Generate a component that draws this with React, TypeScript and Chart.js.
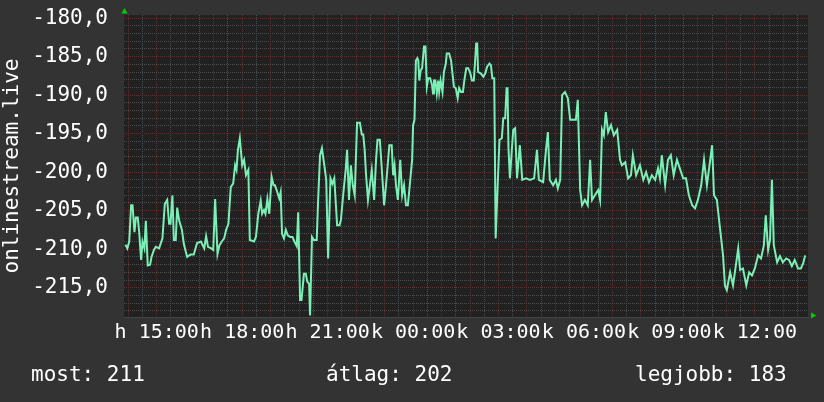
import React, { useEffect, useRef } from 'react';
import { Chart, registerables } from 'chart.js';

Chart.register(...registerables);

// ---- data (minutes after 14:00 of day 1, and the plotted value) ----
const minutes = [
  -6, -2, 2, 6, 9, 13, 16, 20, 23, 27,
  30, 34, 37, 41, 46, 49, 54, 58, 65, 72,
  77, 82, 86, 89, 93, 96, 100, 103, 107, 113,
  117, 124, 131, 138, 145, 153, 160, 164, 168, 175,
  179, 183, 188, 192, 197, 202, 206, 211, 216, 221,
  225, 228, 231, 235, 240, 244, 248, 253, 256, 265,
  269, 274, 279, 282, 286, 289, 293, 297, 302, 306,
  309, 314, 318, 321, 324, 328, 332, 336, 341, 346,
  350, 355, 358, 362, 365, 370, 374, 377, 381, 383,
  387, 391, 397, 400, 404, 408, 413, 417, 421, 426,
  430, 434, 440, 445, 448, 453, 458, 461, 465, 469,
  473, 477, 482, 488, 492, 495, 498, 501, 505, 509,
  513, 518, 522, 525, 530, 535, 539, 543, 550, 555,
  558, 561, 564, 568, 573, 577, 581, 585, 589, 593,
  598, 600, 603, 606, 609, 611, 613, 616, 619, 623,
  626, 629, 632, 636, 640, 642, 644, 647, 650, 653,
  655, 658, 662, 665, 669, 671, 676, 680, 683, 686,
  690, 694, 697, 701, 705, 708, 712, 716, 720, 724,
  728, 733, 735, 737, 743, 748, 752, 756, 761, 764,
  767, 771, 774, 777, 782, 787, 790, 794, 797, 799,
  801, 804, 811, 815, 819, 825, 830, 838, 846, 855,
  861, 865, 874, 880, 884, 888, 895, 901, 905, 910,
  914, 920, 926, 931, 937, 943, 947, 952, 956, 962,
  968, 973, 977, 983, 990, 994, 998, 1002, 1006, 1011,
  1017, 1023, 1030, 1036, 1040, 1047, 1053, 1059, 1063, 1070,
  1078, 1085, 1091, 1097, 1103, 1110, 1116, 1120, 1124, 1131,
  1137, 1143, 1149, 1156, 1162, 1169, 1175, 1181, 1188, 1194,
  1200, 1207, 1213, 1219, 1226, 1230, 1234, 1240, 1247, 1253,
  1257, 1261, 1268, 1274, 1280, 1285, 1289, 1295, 1302, 1308,
  1314, 1320, 1327, 1333, 1339, 1343, 1348, 1352, 1356, 1360,
  1367, 1373, 1379, 1386, 1392, 1398, 1404, 1411, 1417, 1422,
  1426,
];

const values = [
  -209.4, -209.9, -209.0, -204.3, -204.3, -207.8, -205.9, -205.9, -207.8, -211.4,
  -209.0, -209.9, -206.3, -212.1, -212.0, -211.0, -210.1, -209.7, -209.9, -208.6,
  -204.1, -203.6, -206.7, -206.7, -203.0, -208.8, -208.8, -204.6, -206.2, -207.5,
  -209.3, -211.0, -210.7, -210.7, -209.2, -209.0, -209.9, -208.3, -209.7, -209.9,
  -210.1, -203.5, -210.6, -209.5, -209.0, -208.6, -207.5, -206.7, -201.9, -201.5,
  -199.1, -199.7, -197.1, -195.6, -199.1, -198.4, -200.4, -199.7, -208.8, -209.0,
  -208.4, -205.4, -203.7, -205.4, -204.9, -205.4, -203.5, -205.4, -200.6, -201.7,
  -201.7, -202.6, -203.4, -202.6, -208.0, -208.6, -207.5, -208.2, -208.4, -208.4,
  -209.0, -209.6, -205.2, -216.6, -216.6, -213.2, -213.2, -214.2, -214.5, -218.6,
  -208.4, -208.8, -208.8, -203.6, -197.8, -196.9, -199.1, -201.0, -211.2, -200.8,
  -201.5, -200.8, -206.9, -206.9, -206.2, -202.8, -199.7, -197.1, -203.6, -199.1,
  -201.7, -203.0, -193.6, -193.6, -195.1, -195.1, -197.1, -200.4, -203.6, -201.7,
  -199.7, -203.6, -198.4, -195.8, -195.8, -200.4, -204.3, -201.7, -196.5, -196.5,
  -200.4, -199.1, -201.7, -203.6, -198.4, -203.0, -201.7, -204.3, -204.3, -201.7,
  -198.4, -193.9, -193.2, -185.5, -185.2, -185.5, -188.1, -186.8, -186.5, -183.7,
  -183.7, -188.9, -187.8, -187.8, -188.7, -189.8, -188.1, -188.1, -189.8, -188.1,
  -189.6, -188.1, -189.6, -187.0, -185.9, -184.6, -184.6, -185.5, -187.2, -188.9,
  -189.1, -190.4, -189.1, -189.6, -189.6, -188.1, -186.5, -186.5, -187.0, -188.1,
  -188.1, -183.3, -183.3, -187.0, -187.2, -187.6, -187.2, -186.3, -185.9, -186.1,
  -187.8, -187.8, -208.6, -203.6, -195.8, -195.6, -193.0, -193.0, -189.1, -189.1,
  -196.9, -200.8, -194.5, -194.3, -200.8, -196.5, -201.0, -200.8, -201.0, -200.8,
  -197.1, -201.0, -201.3, -197.1, -194.8, -201.0, -201.7, -201.0, -202.1, -201.0,
  -190.0, -189.6, -190.4, -193.2, -193.2, -193.2, -190.6, -202.3, -204.3, -203.6,
  -204.3, -198.4, -203.6, -203.0, -202.3, -203.6, -194.5, -195.2, -192.2, -194.8,
  -193.9, -195.2, -194.5, -198.4, -199.1, -198.7, -200.8, -200.4, -197.8, -200.4,
  -199.1, -201.0, -200.0, -201.3, -200.4, -201.0, -199.5, -200.8, -197.8, -201.7,
  -198.4, -197.8, -200.4, -198.4, -199.5, -200.8, -200.8, -203.0, -204.3, -204.7,
  -203.6, -201.7, -198.4, -201.7, -198.4, -196.5, -203.0, -203.6, -207.5, -210.8,
  -214.7, -215.3, -213.0, -214.7, -212.1, -209.9, -212.7, -212.5, -214.7, -213.0,
  -213.4, -212.5, -210.8, -211.2, -209.5, -205.6, -210.1, -208.8, -201.0, -209.5,
  -211.7, -210.9, -211.7, -211.2, -211.4, -212.2, -211.4, -212.5, -212.5, -211.8,
  -210.8,
];

const yAxisTitle = 'onlinestream.live';
const startHour = 14;
const dayLetters = ['h', 'k'];
const xMin = -9;
const xMax = 1432;
const yMin = -218.8;
const yMax = -179.6;
const statTexts = ['most: 211', 'átlag: 202', 'legjobb: 183'];

// grid positions: every 30 minutes on x, every 1 unit on y
const xGridMinutes: number[] = [];
for (let m = 0; m <= xMax; m += 30) xGridMinutes.push(m);
const yGridValues: number[] = [];
for (let v = -218; v <= -180; v += 1) yGridValues.push(v);

const FONT = 'DejaVu Sans Mono';
const LINE_COLOR = '#7aefb6';
const MAJOR = '#632c2c';
const MINOR = '#4c4c4c';

function xLabel(v: number): string {
  if ((v - 60) % 180 !== 0) return '';
  const total = startHour * 60 + v;
  const hours = Math.floor(total / 60);
  const day = dayLetters[Math.floor(hours / 24)] || '';
  const hh = String(hours % 24).padStart(2, '0');
  return `${day} ${hh}:00`;
}

const bgPlugin = {
  id: 'rrdBackground',
  beforeDraw(chart: any) {
    const { ctx, chartArea: a } = chart;
    ctx.save();
    ctx.fillStyle = '#212121';
    ctx.fillRect(a.left, a.top, a.right - a.left, a.bottom - a.top);
    ctx.restore();
  },
};

const arrowPlugin = {
  id: 'rrdArrows',
  afterDraw(chart: any) {
    const { ctx, chartArea: a } = chart;
    ctx.save();
    ctx.fillStyle = '#00d000';
    ctx.beginPath();
    ctx.moveTo(a.left - 2.5, a.top - 1.5);
    ctx.lineTo(a.left + 3.5, a.top - 1.5);
    ctx.lineTo(a.left + 0.5, a.top - 7);
    ctx.closePath();
    ctx.fill();
    ctx.beginPath();
    ctx.moveTo(a.right + 3, a.bottom - 4.5);
    ctx.lineTo(a.right + 3, a.bottom + 1.5);
    ctx.lineTo(a.right + 8.5, a.bottom - 1.5);
    ctx.closePath();
    ctx.fill();
    ctx.restore();
  },
};

function zeroPadding(s: any) {
  s.paddingTop = 0;
  s.paddingBottom = 0;
  s.paddingLeft = 0;
  s.paddingRight = 0;
}

export default function App() {
  const canvasRef = useRef<HTMLCanvasElement | null>(null);

  useEffect(() => {
    const canvas = canvasRef.current;
    if (!canvas) return;
    Chart.defaults.font.family = FONT;
    const data = minutes.map((m, i) => ({ x: m, y: values[i] }));
    const chart = new Chart(canvas, {
      type: 'line',
      data: {
        datasets: [
          {
            data,
            borderColor: LINE_COLOR,
            borderWidth: 2,
            pointRadius: 0,
            fill: false,
            tension: 0,
          },
        ],
      },
      options: {
        responsive: false,
        animation: false,
        devicePixelRatio: 1,
        layout: { padding: { left: 0, top: 15, right: 16, bottom: 0 } },
        plugins: {
          legend: { display: false },
          tooltip: { enabled: false },
        },
        scales: {
          x: {
            type: 'linear',
            min: xMin,
            max: xMax,
            afterBuildTicks: (s: any) => {
              s.ticks = xGridMinutes.map((v) => ({ value: v }));
            },
            afterFit: (s: any) => {
              s.height = 85;
              zeroPadding(s);
            },
            ticks: {
              autoSkip: false,
              maxRotation: 0,
              minRotation: 0,
              color: '#ffffff',
              font: { family: FONT, size: 20 },
              padding: 4,
              callback: (v: any) => xLabel(Number(v)),
            },
            grid: {
              color: (c: any) => (c.tick && c.tick.value % 60 === 0 ? MAJOR : MINOR),
              lineWidth: 1,
              drawTicks: false,
            },
            border: { display: true, color: '#444444', dash: [1, 1] },
          },
          y: {
            type: 'linear',
            min: yMin,
            max: yMax,
            afterBuildTicks: (s: any) => {
              s.ticks = yGridValues.map((v) => ({ value: v }));
            },
            afterFit: (s: any) => {
              s.width = 124;
              zeroPadding(s);
            },
            ticks: {
              autoSkip: false,
              color: '#ffffff',
              font: { family: FONT, size: 21 },
              padding: 16,
              callback: (v: any) => {
                const n = Number(v);
                return n % 5 === 0 ? n.toFixed(1).replace('.', ',') : '';
              },
            },
            grid: {
              color: (c: any) => (c.tick && c.tick.value % 5 === 0 ? MAJOR : MINOR),
              lineWidth: 1,
              drawTicks: false,
            },
            border: { display: false, dash: [1, 1] },
            title: {
              display: true,
              text: yAxisTitle,
              color: '#ffffff',
              font: { family: FONT, size: 21 },
              padding: { top: 0, bottom: 0 },
            },
          },
        },
      },
      plugins: [bgPlugin, arrowPlugin],
    } as any);
    return () => chart.destroy();
  }, []);

  const statStyle: React.CSSProperties = {
    position: 'absolute',
    top: 364,
    fontFamily: FONT,
    fontSize: 21,
    lineHeight: '21px',
    color: '#ffffff',
    whiteSpace: 'pre',
  };

  return (
    <div
      style={{
        position: 'absolute',
        left: 0,
        top: 0,
        width: 824,
        height: 402,
        background: '#333333',
        overflow: 'hidden',
      }}
    >
      <canvas ref={canvasRef} width={824} height={402} style={{ display: 'block', width: 824, height: 402 }} />
      <span style={{ ...statStyle, left: 31 }}>{statTexts[0]}</span>
      <span style={{ ...statStyle, left: 326 }}>{statTexts[1]}</span>
      <span style={{ ...statStyle, left: 635 }}>{statTexts[2]}</span>
    </div>
  );
}
